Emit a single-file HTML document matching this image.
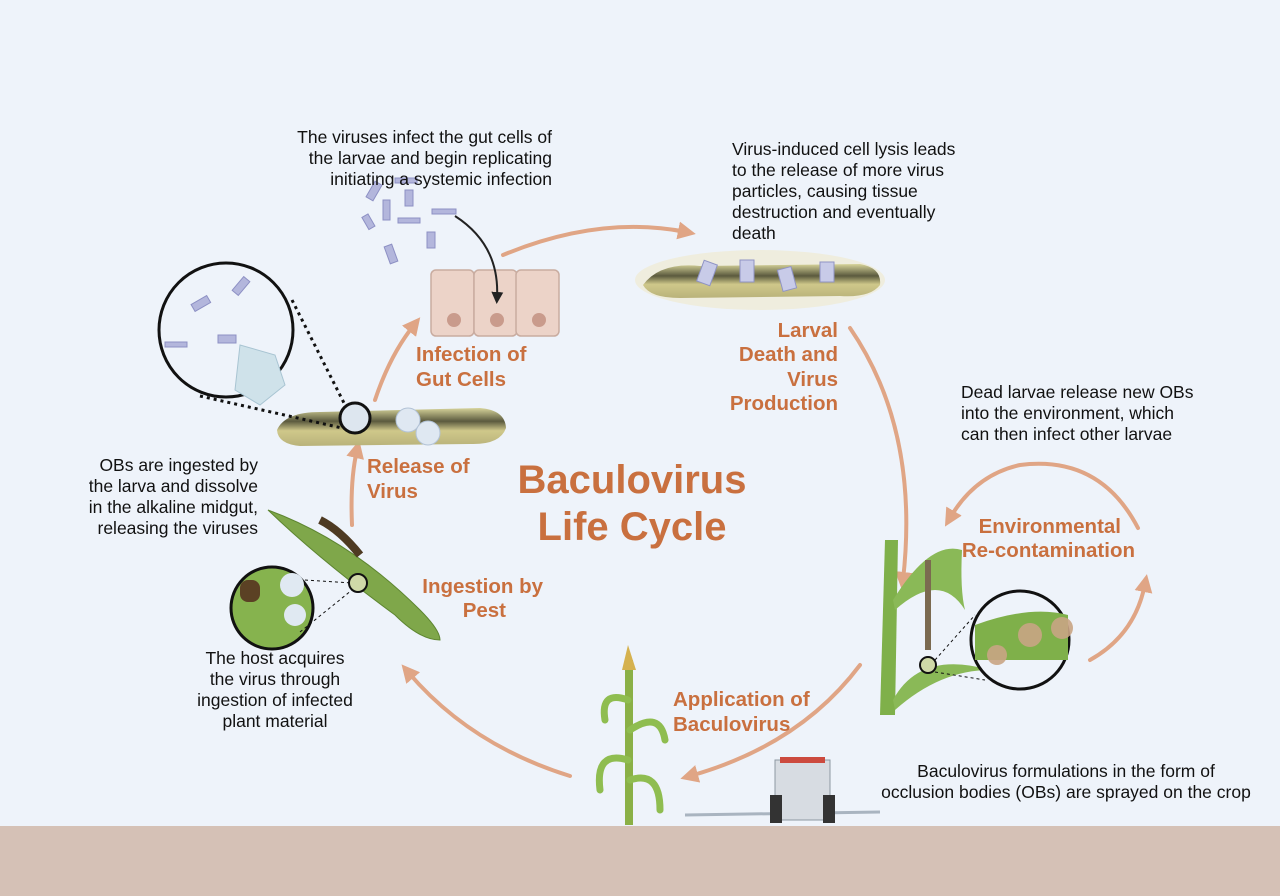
<!DOCTYPE html>
<html><head><meta charset="utf-8"><style>
html,body{margin:0;padding:0;width:1280px;height:896px;overflow:hidden;background:#eef3fa;}
svg{display:block}
.t{font-family:"Liberation Sans",sans-serif;font-size:17.5px;fill:#111;}
.l{font-family:"Liberation Sans",sans-serif;font-size:20.5px;font-weight:bold;fill:#c9703f;}
</style></head><body>
<svg width="1280" height="896" viewBox="0 0 1280 896">
<defs>
<marker id="ah" markerWidth="4.5" markerHeight="4.5" refX="2" refY="2.25" orient="auto" markerUnits="strokeWidth">
<path d="M0,0 L4.5,2.25 L0,4.5 Z" fill="#e0a585"/></marker>
<marker id="bh" markerWidth="6" markerHeight="6" refX="3" refY="3" orient="auto" markerUnits="strokeWidth">
<path d="M0,0 L6,3 L0,6 Z" fill="#222"/></marker>
<linearGradient id="cat" x1="0" y1="0" x2="0" y2="1">
<stop offset="0" stop-color="#d7d49a"/><stop offset="0.35" stop-color="#5b5a3e"/><stop offset="0.6" stop-color="#cfc88a"/><stop offset="1" stop-color="#b9b27a"/></linearGradient>
</defs>
<rect x="0" y="826" width="1280" height="70" fill="#d5c1b6"/>
<g fill="none" stroke="#e0a585" stroke-width="4" stroke-linecap="round">
<path d="M503,255 Q600,215 686,232" marker-end="url(#ah)"/>
<path d="M850,328 Q920,430 903,580" marker-end="url(#ah)"/>
<path d="M860,665 Q800,745 690,776" marker-end="url(#ah)"/>
<path d="M570,776 Q470,745 408,672" marker-end="url(#ah)"/>
<path d="M352,525 Q350,480 357,450" marker-end="url(#ah)"/>
<path d="M375,400 Q390,355 414,325" marker-end="url(#ah)"/>
<path d="M1138,528 Q1100,455 1020,465 Q975,475 950,518" marker-end="url(#ah)"/>
<path d="M1090,660 Q1135,635 1145,584" marker-end="url(#ah)"/>
</g>
<g fill="#ecd3c8" stroke="#c9aca0" stroke-width="1.5">
<rect x="431" y="270" width="43" height="66" rx="5"/>
<rect x="474" y="270" width="43" height="66" rx="5"/>
<rect x="516" y="270" width="43" height="66" rx="5"/>
</g>
<g fill="#c99b8c"><circle cx="454" cy="320" r="7"/><circle cx="497" cy="320" r="7"/><circle cx="539" cy="320" r="7"/></g>
<path d="M455,216 Q500,245 497,298" fill="none" stroke="#222" stroke-width="2" marker-end="url(#bh)"/>
<g fill="#b3b6dc" stroke="#8d90c4" stroke-width="1">
<rect x="370" y="182" width="8" height="18" transform="rotate(30 374 191)"/>
<rect x="405" y="190" width="8" height="16"/>
<rect x="383" y="200" width="7" height="20"/>
<rect x="427" y="232" width="8" height="16"/>
<rect x="387" y="245" width="8" height="18" transform="rotate(-20 391 254)"/>
<rect x="432" y="209" width="24" height="5"/>
<rect x="398" y="218" width="22" height="5"/>
<rect x="365" y="215" width="7" height="14" transform="rotate(-30 368 222)"/>
<rect x="395" y="178" width="22" height="5"/>
</g>
<ellipse cx="760" cy="280" rx="125" ry="30" fill="#f0e9cc" opacity="0.6"/>
<path d="M643,285 Q660,262 700,266 L860,264 Q882,268 880,285 Q870,298 840,296 L680,298 Q650,298 643,285Z" fill="url(#cat)"/>
<g fill="#c8cbe8" stroke="#8f93c4"><rect x="700" y="262" width="14" height="22" transform="rotate(20 707 273)"/><rect x="740" y="260" width="14" height="22"/><rect x="780" y="268" width="14" height="22" transform="rotate(-15 787 279)"/><rect x="820" y="262" width="14" height="20"/></g>
<path d="M277,430 Q285,412 320,412 L480,408 Q505,410 506,428 Q500,445 470,444 L300,446 Q278,444 277,430Z" fill="url(#cat)"/>
<circle cx="408" cy="420" r="12" fill="#dfe8f2" stroke="#b2c2d6"/>
<circle cx="428" cy="433" r="12" fill="#dfe8f2" stroke="#b2c2d6"/>
<circle cx="355" cy="418" r="15" fill="#dde6ef" stroke="#111" stroke-width="3"/>
<circle cx="226" cy="330" r="67" fill="#eef3fa" stroke="#111" stroke-width="3"/>
<path d="M240,345 L275,355 L285,385 L260,405 L235,390 Z" fill="#cfe2ea" stroke="#a8c4d2"/>
<g fill="#b3b6dc" stroke="#8d90c4"><rect x="192" y="300" width="18" height="8" transform="rotate(-30 200 304)"/><rect x="232" y="282" width="18" height="8" transform="rotate(-50 241 286)"/><rect x="218" y="335" width="18" height="8"/><rect x="165" y="342" width="22" height="5"/></g>
<g fill="none" stroke="#111" stroke-width="3" stroke-dasharray="3,4"><path d="M292,300 L345,405"/><path d="M200,396 L342,428"/></g>
<path d="M268,510 Q350,540 420,610 Q440,630 440,640 Q420,640 395,615 Q320,560 268,510Z" fill="#7fa74a" stroke="#5d8530"/>
<path d="M320,520 Q340,530 360,555" stroke="#4e3a22" stroke-width="8" fill="none"/>
<circle cx="358" cy="583" r="9" fill="#cfd9a8" stroke="#111" stroke-width="2"/>
<circle cx="272" cy="608" r="41" fill="#86b34e" stroke="#111" stroke-width="3"/>
<circle cx="292" cy="585" r="12" fill="#e0e9f2"/><circle cx="295" cy="615" r="11" fill="#e0e9f2"/>
<rect x="240" y="580" width="20" height="22" rx="8" fill="#5b4124"/>
<g stroke="#111" stroke-dasharray="3,3"><line x1="305" y1="580" x2="352" y2="583"/><line x1="300" y1="632" x2="352" y2="590"/></g>
<path d="M885,540 L880,715 L895,715 L898,540Z" fill="#7fb04a"/>
<path d="M893,600 Q930,540 962,550 Q960,590 965,610 Q940,570 895,610Z" fill="#8ab957"/>
<path d="M893,700 Q920,650 990,670 Q940,670 895,710Z" fill="#8ab957"/>
<path d="M928,560 L928,650" stroke="#7b6a50" stroke-width="6"/>
<circle cx="928" cy="665" r="8" fill="#cfd9a8" stroke="#111" stroke-width="2"/>
<circle cx="1020" cy="640" r="49" fill="#eef3fa" stroke="#111" stroke-width="3"/>
<path d="M975,625 Q1030,605 1068,615 L1068,660 Q1030,660 975,660Z" fill="#7fb04a"/>
<g fill="#c9a584" opacity="0.9"><circle cx="1030" cy="635" r="12"/><circle cx="1062" cy="628" r="11"/><circle cx="997" cy="655" r="10"/></g>
<g stroke="#111" stroke-dasharray="3,3"><line x1="935" y1="660" x2="975" y2="615"/><line x1="935" y1="672" x2="985" y2="680"/></g>
<path d="M625,660 L625,825 L633,825 L633,660Z" fill="#8ab046"/>
<g fill="none" stroke="#8fbd50" stroke-width="7" stroke-linecap="round"><path d="M628,700 Q600,690 605,720"/><path d="M630,730 Q660,710 665,740"/><path d="M628,760 Q595,750 600,790"/><path d="M630,780 Q660,770 660,810"/></g>
<path d="M628,645 L622,670 L636,670Z" fill="#d5b14e"/>
<line x1="685" y1="815" x2="880" y2="812" stroke="#a9b4c0" stroke-width="3"/>
<rect x="775" y="760" width="55" height="60" fill="#d7dce2" stroke="#8e98a2"/>
<rect x="780" y="757" width="45" height="6" fill="#cc4a3e"/>
<rect x="770" y="795" width="12" height="28" fill="#333"/><rect x="823" y="795" width="12" height="28" fill="#333"/>
<g class="t" text-anchor="end">
<text x="552" y="143">The viruses infect the gut cells of</text>
<text x="552" y="164">the larvae and begin replicating</text>
<text x="552" y="185">initiating a systemic infection</text>
<text x="258" y="471">OBs are ingested by</text>
<text x="258" y="492">the larva and dissolve</text>
<text x="258" y="513">in the alkaline midgut,</text>
<text x="258" y="534">releasing the viruses</text>
</g>
<g class="t">
<text x="732" y="155">Virus-induced cell lysis leads</text>
<text x="732" y="176">to the release of more virus</text>
<text x="732" y="197">particles, causing tissue</text>
<text x="732" y="218">destruction and eventually</text>
<text x="732" y="239">death</text>
<text x="961" y="398">Dead larvae release new OBs</text>
<text x="961" y="419">into the environment, which</text>
<text x="961" y="440">can then infect other larvae</text>
</g>
<g class="t" text-anchor="middle">
<text x="275" y="664">The host acquires</text>
<text x="275" y="685">the virus through</text>
<text x="275" y="706">ingestion of infected</text>
<text x="275" y="727">plant material</text>
<text x="1066" y="777">Baculovirus formulations in the form of</text>
<text x="1066" y="798">occlusion bodies (OBs) are sprayed on the crop</text>
</g>
<g class="l">
<text x="416" y="361">Infection of</text><text x="416" y="386">Gut Cells</text>
<text x="367" y="473">Release of</text><text x="367" y="498">Virus</text>
<text x="673" y="706">Application of</text><text x="673" y="731">Baculovirus</text>
</g>
<g class="l" text-anchor="end">
<text x="838" y="337">Larval</text><text x="838" y="361">Death and</text><text x="838" y="386">Virus</text><text x="838" y="410">Production</text>
<text x="1121" y="533">Environmental</text><text x="1135" y="557">Re-contamination</text>
<text x="543" y="593">Ingestion by</text><text x="506" y="617">Pest</text>
</g>
<g font-family="Liberation Sans,sans-serif" font-weight="bold" font-size="40" fill="#c9703f" text-anchor="middle">
<text x="632" y="493">Baculovirus</text><text x="632" y="540">Life Cycle</text>
</g>
</svg>
</body></html>
